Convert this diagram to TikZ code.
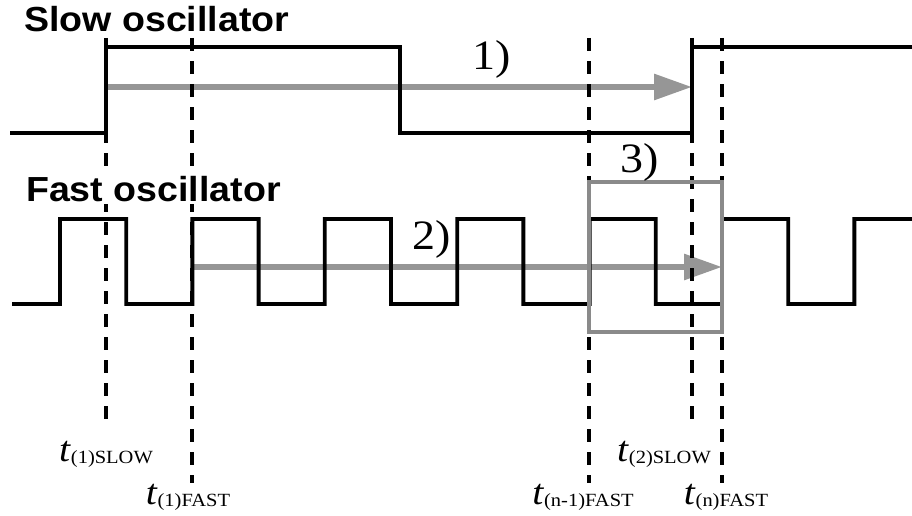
\documentclass[tikz,border=0pt]{standalone}
\usepackage{fontspec}
\setmainfont{Liberation Serif}[FakeStretch=1.1]
\newfontfamily\headfont{Liberation Sans}[FakeStretch=1.08]
\usetikzlibrary{arrows.meta,positioning,calc}
\definecolor{spangray}{RGB}{150,150,150}
\definecolor{boxgray}{RGB}{138,138,138}
\newcommand{\tmark}[1]{\fontsize{20.5}{21}\selectfont\textit{t}\fontsize{10.6}{11}\selectfont\raisebox{-1pt}{#1}}

\begin{document}
\begin{tikzpicture}[x=0.02cm,y=-0.02cm,
    wave/.style={line width=2.2pt,line join=miter},
    marker/.style={line width=2.2pt,dash pattern=on 7.4pt off 5.7pt},
    span/.style={line width=3.4pt,draw=spangray,-{Triangle[length=0.76cm,width=0.5cm,fill=spangray]}},
    window/.style={line width=2.4pt,draw=boxgray},
    title/.style={font=\headfont\bfseries\fontsize{19.8}{20}\selectfont,fill=white,inner sep=1pt,anchor=base west},
    tag/.style={font=\fontsize{23.8}{24}\selectfont,inner sep=0pt,anchor=base west},
    tlab/.style={inner sep=0pt,anchor=north}]
      \useasboundingbox (0,0) rectangle (912,516);
      \coordinate (s1t) at (106,38);  \coordinate (s1b) at (106,428);
      \coordinate (f1t) at (192,38);  \coordinate (f1b) at (192,483);
      \coordinate (fn1t) at (589,38); \coordinate (fn1b) at (589,483);
      \coordinate (s2t) at (692,38);  \coordinate (s2b) at (692,428);
      \coordinate (fnt) at (722,38);  \coordinate (fnb) at (722,483);
      \coordinate (a1s) at (106,87);
      \coordinate (a2s) at (192,267);
      \coordinate (win1) at (589,182);
      \coordinate (win2) at (722,332);
      \draw[span] (a1s) -- (a1s -| s2t);
      \draw[span] (a2s) -- (a2s -| fnt);
      \draw[wave] (10,133) -- (106,133) -- (106,47) -- (400,47) -- (400,133) -- (692,133) -- (692,47) -- (912,47);
      \draw[wave] (12,304) -- (60,304)
        \foreach \k in {0,...,5} {
          -- ({60+132.4*\k},219) -- ({126.2+132.4*\k},219) -- ({126.2+132.4*\k},304) -- ({192.4+132.4*\k},304)}
        -- (854.4,219) -- (912,219);
      \foreach \m in {s1,f1,fn1,s2,fn}
        \draw[marker] (\m t) -- (\m b);
      \draw[window] (win1) rectangle (win2);
      \node[title] (slow) at (22,32) {Slow oscillator};
      \node[title] (fast) at (24,202) {Fast oscillator};
      \node[tag] (one) at (472,70) {1)};
      \node[tag] (two) at (412,250) {2)};
      \node[tag] (three) at (620,173) {3)};
      \node[tlab,below=0.26cm of s1b] (ts1) {\tmark{(1)SLOW}};
      \node[tlab,below=0.02cm of f1b,xshift=-0.08cm] (tf1) {\tmark{(1)FAST}};
      \node[tlab,below=0.02cm of fn1b,xshift=-0.12cm] (tfn1) {\tmark{(n-1)FAST}};
      \node[tlab,below=0.26cm of s2b,xshift=-0.56cm] (ts2) {\tmark{(2)SLOW}};
      \node[tlab,below=0.02cm of fnb,xshift=0.08cm] (tfn) {\tmark{(n)FAST}};
    \end{tikzpicture}
\end{document}
